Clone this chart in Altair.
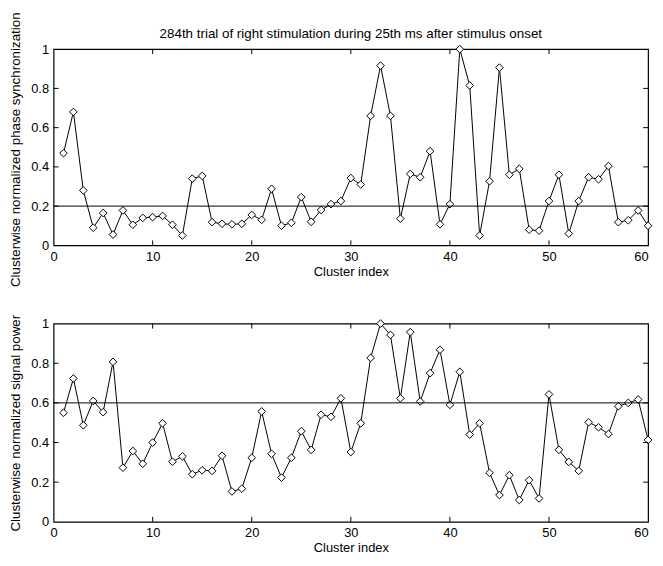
import altair as alt
import pandas as pd

cluster = list(range(1, 61))
phase_sync = [0.47, 0.68, 0.28, 0.09, 0.165, 0.055, 0.178, 0.105, 0.14, 0.144,
              0.15, 0.105, 0.05, 0.34, 0.354, 0.118, 0.11, 0.107, 0.11, 0.155,
              0.13, 0.288, 0.10, 0.115, 0.246, 0.12, 0.18, 0.21, 0.226, 0.343,
              0.31, 0.66, 0.916, 0.66, 0.136, 0.364, 0.347, 0.48, 0.107, 0.21,
              1.0, 0.815, 0.05, 0.327, 0.906, 0.36, 0.39, 0.08, 0.075, 0.226,
              0.36, 0.06, 0.226, 0.347, 0.337, 0.404, 0.118, 0.128, 0.178, 0.10]
signal_power = [0.55, 0.723, 0.487, 0.61, 0.553, 0.807, 0.273, 0.357, 0.293, 0.40,
                0.497, 0.303, 0.33, 0.24, 0.26, 0.257, 0.333, 0.153, 0.167, 0.323,
                0.557, 0.343, 0.223, 0.323, 0.457, 0.363, 0.54, 0.53, 0.623, 0.352,
                0.497, 0.827, 1.0, 0.943, 0.623, 0.957, 0.607, 0.75, 0.868, 0.59,
                0.757, 0.44, 0.497, 0.247, 0.135, 0.235, 0.11, 0.21, 0.118, 0.643,
                0.363, 0.302, 0.257, 0.502, 0.477, 0.443, 0.583, 0.60, 0.617, 0.413]
thresholds = [0.2, 0.6]
x_ticks = [0, 10, 20, 30, 40, 50, 60]
y_ticks = [0, 0.2, 0.4, 0.6, 0.8, 1]
y_titles = ["Clusterwise normalized phase synchronization",
            "Clusterwise normalized signal power"]
x_title = "Cluster index"
main_title = "284th trial of right stimulation during 25th ms after stimulus onset"

W = 600
FONT = "Liberation Sans"


def panel(values, thr, ytitle, H, title=None, title_shift=0):
    df = pd.DataFrame({"x": cluster, "y": values})
    xs = alt.Scale(domain=[0, 60], nice=False, zero=False)
    ys = alt.Scale(domain=[0, 1], nice=False)
    common = dict(ticks=False, grid=False, domain=False, labelOverlap=False,
                  labelFlush=False, labelFont=FONT, titleFont=FONT,
                  labelFontSize=13, labelColor="black",
                  titleColor="black", titleFontWeight="normal",
                  labelFontWeight="normal")
    xax = alt.Axis(values=x_ticks, labelPadding=5, titlePadding=2, format="d",
                   titleFontSize=13,
                   labelAlign={"condition": {"test": "datum.value >= 60",
                                             "value": "right"},
                               "value": "center"},
                   **common)
    yax = alt.Axis(values=y_ticks, labelPadding=5, titlePadding=8,
                   titleFontSize=13.5, titleY=H / 2 + title_shift,
                   format="~g", **common)

    def X(f):
        return alt.X(f, type="quantitative", scale=xs, axis=xax, title=x_title)

    def Y(f):
        return alt.Y(f, type="quantitative", scale=ys, axis=yax, title=ytitle)

    base = alt.Chart(df)
    line = base.mark_line(color="black", strokeWidth=1).encode(x=X("x"), y=Y("y"))
    pts = base.mark_point(shape="diamond", size=60, filled=False, color="black",
                          fill="white", fillOpacity=1, strokeWidth=1).encode(
        x=X("x"), y=Y("y"))
    thr_rule = alt.Chart(pd.DataFrame({"t": [thr]})).mark_rule(
        color="black", strokeWidth=1).encode(
        y=Y("t"), x=alt.value(0), x2=alt.value(W))
    xt = pd.DataFrame({"v": x_ticks[1:-1]})
    yt = pd.DataFrame({"v": y_ticks[1:-1]})
    tk = dict(color="black", strokeWidth=1)
    xt_bot = alt.Chart(xt).mark_rule(**tk).encode(
        x=X("v"), y=alt.value(H), y2=alt.value(H - 5))
    xt_top = alt.Chart(xt).mark_rule(**tk).encode(
        x=X("v"), y=alt.value(0), y2=alt.value(5))
    yt_left = alt.Chart(yt).mark_rule(**tk).encode(
        y=Y("v"), x=alt.value(0), x2=alt.value(5))
    yt_right = alt.Chart(yt).mark_rule(**tk).encode(
        y=Y("v"), x=alt.value(W - 5), x2=alt.value(W))
    layers = [line, pts, thr_rule, xt_bot, xt_top, yt_left, yt_right]
    if title:
        ttl = alt.Chart(pd.DataFrame({"t": [title]})).mark_text(
            font=FONT, fontSize=13.5, color="black", baseline="middle",
            align="center").encode(
            text="t:N", x=alt.value(W / 2), y=alt.value(-15))
        layers.append(ttl)
    return alt.layer(*layers).properties(width=W, height=H)


top = panel(phase_sync, thresholds[0], y_titles[0], 198, main_title, title_shift=2)
bottom = panel(signal_power, thresholds[1], y_titles[1], 200)

chart = alt.vconcat(top, bottom, spacing=79, bounds="flush").properties(
    padding={"left": 0, "top": 0, "right": 0, "bottom": 0},
    background="white"
).configure_view(stroke="black", strokeWidth=1.2)

chart.save("out.html", embed_options={"renderer": "svg", "actions": False})
